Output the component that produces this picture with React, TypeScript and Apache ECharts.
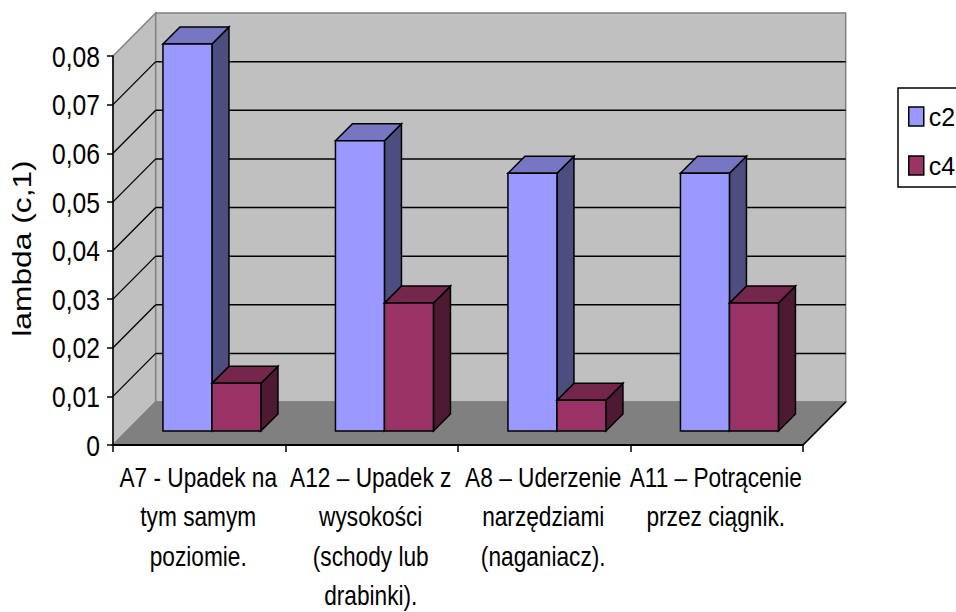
import React, { useEffect, useRef } from "react";
import * as echarts from "echarts";

const categories = [
  "A7 - Upadek na\ntym samym\npoziomie.",
  "A12 – Upadek z\nwysokości\n(schody lub\ndrabinki).",
  "A8 – Uderzenie\nnarzędziami\n(naganiacz).",
  "A11 – Potrącenie\nprzez ciągnik.",
];
const c2 = [0.0796, 0.0597, 0.053, 0.053];
const c4 = [0.0098, 0.0263, 0.0063, 0.0263];
const ticks = [0, 0.01, 0.02, 0.03, 0.04, 0.05, 0.06, 0.07, 0.08];
const tickLabels = ["0", "0,01", "0,02", "0,03", "0,04", "0,05", "0,06", "0,07", "0,08"];
const yTitle = "lambda (c,1)";
const FONT = "'Liberation Sans'";

const DX = 42.7;
const DY = 43;
const BAR_D = 17;
const BAR_FRONT = 14;
const BAR_W = 49;

function poly(points: number[][], fill: string, stroke: string, lineWidth: number) {
  return { type: "polygon", shape: { points }, style: { fill, stroke, lineWidth, lineJoin: "miter" } };
}
function line(a: number[], b: number[], stroke: string, lineWidth: number) {
  return { type: "line", shape: { x1: a[0], y1: a[1], x2: b[0], y2: b[1] }, style: { stroke, lineWidth } };
}
function label(text: string, x: number, y: number, align: string, size: number, extra: any) {
  return {
    type: "text",
    x,
    y,
    ...extra,
    style: { text, fill: "#000", font: `${size}px ${FONT}`, textAlign: align, textVerticalAlign: "middle" },
  };
}

function renderWalls(params: any, api: any) {
  const cs = params.coordSys;
  const L = cs.x, R = cs.x + cs.width, B = cs.y + cs.height;
  const T = api.coord([0, 0.08])[1];
  const children: any[] = [
    poly([[L, B], [L + DX, B - DY], [L + DX, T - DY], [L, T]], "#C0C0C0", "#808080", 1.5),
    poly([[L + DX, B - DY], [R + DX, B - DY], [R + DX, T - DY], [L + DX, T - DY]], "#C0C0C0", "#808080", 1.5),
    poly([[L, B], [R, B], [R + DX, B - DY], [L + DX, B - DY]], "#808080", "#808080", 1.5),
    line([R, B], [R + DX, B - DY], "#000", 1.5),
  ];
  ticks.slice(1, 8).forEach((t) => {
    const y = api.coord([0, t])[1];
    children.push(line([L, y], [L + DX, y - DY], "#000", 1.3));
    children.push(line([L + DX, y - DY], [R + DX, y - DY], "#000", 1.5));
  });
  return { type: "group", children };
}

function renderPair(params: any, api: any) {
  const i = api.value(0);
  const cs = params.coordSys;
  const catW = cs.width / categories.length;
  const B = cs.y + cs.height;
  const mid = cs.x + catW * (i + 0.5) + 12.7;
  const bar = (x0: number, val: number, front: string, top: string, side: string) => {
    const x1 = x0 + BAR_W;
    const yb = B - BAR_FRONT;
    const yt = api.coord([0, val])[1] - BAR_FRONT;
    return [
      poly([[x1, yb], [x1 + BAR_D, yb - BAR_D], [x1 + BAR_D, yt - BAR_D], [x1, yt]], side, "#000", 1.5),
      poly([[x0, yt], [x1, yt], [x1 + BAR_D, yt - BAR_D], [x0 + BAR_D, yt - BAR_D]], top, "#000", 1.5),
      poly([[x0, yb], [x1, yb], [x1, yt], [x0, yt]], front, "#000", 1.5),
    ];
  };
  return {
    type: "group",
    children: [
      ...bar(mid - BAR_W, api.value(1), "#9999FF", "#7676C2", "#4D4D80"),
      ...bar(mid, api.value(2), "#993366", "#74264C", "#4D1933"),
    ],
  };
}

function renderTexts(params: any, api: any) {
  const cs = params.coordSys;
  const catW = cs.width / categories.length;
  const B = cs.y + cs.height;
  const children: any[] = [];
  categories.forEach((c, i) => {
    c.split("\n").forEach((ln, k) => {
      children.push(label(ln, cs.x + catW * (i + 0.5) - 1, B + 32 + k * 39.4, "center", 28, { scaleX: 0.81 }));
    });
  });
  ticks.forEach((t, i) => {
    children.push(label(tickLabels[i], 100, api.coord([0, t])[1] + 1, "right", 29, { scaleX: 0.85 }));
  });
  children.push(label(yTitle, 22, 248.5, "center", 25, { scaleX: 1.27, rotation: Math.PI / 2 }));
  return { type: "group", children };
}

export default function App() {
  const ref = useRef<HTMLDivElement>(null);
  useEffect(() => {
    const chart = echarts.init(ref.current!, undefined, { renderer: "svg" });
    chart.setOption({
      animation: false,
      backgroundColor: "#fff",
      textStyle: { fontFamily: "Liberation Sans" },
      grid: { left: 113, top: 56, width: 690, height: 389, outerBoundsMode: "none" },
      legend: {
        left: 898,
        top: 88,
        orient: "vertical",
        itemWidth: 15,
        itemHeight: 19,
        itemGap: 24,
        padding: [16, 40, 9, 10],
        borderColor: "#000",
        borderWidth: 1.5,
        textStyle: { fontFamily: "Liberation Sans", fontSize: 25, color: "#000" },
        data: [
          { name: "c2", icon: "rect", itemStyle: { color: "#9999FF", borderColor: "#000", borderWidth: 1.5 } },
          { name: "c4", icon: "rect", itemStyle: { color: "#993366", borderColor: "#000", borderWidth: 1.5 } },
        ],
      },
      xAxis: {
        type: "category",
        data: categories,
        axisLine: { lineStyle: { color: "#000", width: 2 } },
        axisTick: { show: true, length: 7, lineStyle: { color: "#000", width: 1.5 } },
        axisLabel: { show: false },
      },
      yAxis: {
        type: "value",
        min: 0,
        max: 0.08,
        interval: 0.01,
        splitLine: { show: false },
        axisLine: { show: true, lineStyle: { color: "#000", width: 1.5 } },
        axisTick: { show: true, length: 6, lineStyle: { color: "#000", width: 1.5 } },
        axisLabel: { show: false },
      },
      series: [
        {
          type: "custom",
          name: "walls",
          silent: true,
          z: 0,
          renderItem: renderWalls,
          data: [[0, 0]],
          encode: { x: 0, y: 1 },
        },
        {
          type: "custom",
          name: "bars",
          z: 1,
          renderItem: renderPair,
          data: categories.map((_, i) => [i, c2[i], c4[i]]),
          encode: { x: 0, y: [1, 2] },
        },
        {
          type: "custom",
          name: "texts",
          silent: true,
          z: 2,
          clip: false,
          renderItem: renderTexts,
          data: [[0, 0]],
          encode: { x: 0, y: 1 },
        },
        { type: "bar", name: "c2", data: [], itemStyle: { color: "#9999FF" } },
        { type: "bar", name: "c4", data: [], itemStyle: { color: "#993366" } },
      ],
    });
    return () => chart.dispose();
  }, []);
  return <div ref={ref} style={{ position: "fixed", left: 0, top: 0, width: 956, height: 612 }} />;
}
